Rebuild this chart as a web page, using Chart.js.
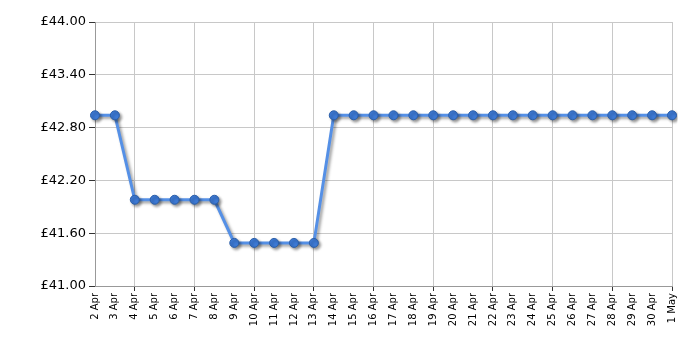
<!DOCTYPE html>
<html>
<head>
<meta charset="utf-8">
<script src="https://cdn.jsdelivr.net/npm/chart.js@4"></script>
<style>
  body { margin: 0; background: #fff; }
  #wrap { width: 700px; height: 350px; }
</style>
</head>
<body>
<div id="wrap"><canvas id="myChart"></canvas></div>
<script>
var days = ["2 Apr", "3 Apr", "4 Apr", "5 Apr", "6 Apr", "7 Apr", "8 Apr", "9 Apr", "10 Apr", "11 Apr",
    "12 Apr", "13 Apr", "14 Apr", "15 Apr", "16 Apr", "17 Apr", "18 Apr", "19 Apr", "20 Apr", "21 Apr",
    "22 Apr", "23 Apr", "24 Apr", "25 Apr", "26 Apr", "27 Apr", "28 Apr", "29 Apr", "30 Apr", "1 May"];
var prices = [42.94, 42.94, 41.98, 41.98, 41.98, 41.98, 41.98, 41.49, 41.49, 41.49,
    41.49, 41.49, 42.94, 42.94, 42.94, 42.94, 42.94, 42.94, 42.94, 42.94,
    42.94, 42.94, 42.94, 42.94, 42.94, 42.94, 42.94, 42.94, 42.94, 42.94];
var yTicks = [41.00, 41.60, 42.20, 42.80, 43.40, 44.00];

// drop shadow under the line
const shadow = {
    id: "shadow",
    beforeDatasetDraw(chart) {
        const ctx = chart.ctx
        ctx.save()
        ctx.shadowColor = "rgba(0,0,0,0.4)"
        ctx.shadowBlur = 3
        ctx.shadowOffsetX = 2
        ctx.shadowOffsetY = 2
    },
    afterDatasetDraw(chart) {
        chart.ctx.restore()
    }
}

new Chart("myChart", {
    type: "line",
    data: {
        labels: days,
        datasets: [{
            data: prices,
            borderColor: "#5590e6",
            borderWidth: 3,
            backgroundColor: "#3d7ad6",
            pointBackgroundColor: "#3d7ad6",
            pointBorderColor: "#2c5fa8",
            pointBorderWidth: 1,
            pointRadius: 4.5,
            tension: 0
        }]
    },
    plugins: [shadow],
    options: {
        responsive: true,
        maintainAspectRatio: false,
        animation: false,
        layout: { padding: { top: 22, right: 28, left: 0, bottom: 0 } },
        plugins: { legend: { display: false }, tooltip: { enabled: false } },
        scales: {
            x: {
                offset: false,
                afterFit: (s) => { s.height = 64 },
                grid: {
                    color: (c) => (c.index % 3 === 2 ? "#c8c8c8" : "transparent"),
                    tickColor: (c) => (c.index % 3 === 2 ? "#333" : "transparent"),
                    tickLength: 5
                },
                border: { color: "#999", width: 1 },
                ticks: {
                    autoSkip: false,
                    maxRotation: 90,
                    minRotation: 90,
                    padding: 2,
                    color: "#000",
                    font: { family: "DejaVu Sans", size: 10 }
                }
            },
            y: {
                min: 41,
                max: 44,
                afterFit: (s) => { s.width = 95 },
                afterBuildTicks: (s) => { s.ticks = yTicks.map(v => ({ value: v })) },
                grid: { color: "#c8c8c8", tickColor: "#333", tickLength: 6 },
                border: { color: "#999", width: 1 },
                ticks: {
                    padding: 3,
                    color: "#000",
                    font: { family: "DejaVu Sans", size: 13 },
                    callback: (v) => "£" + Number(v).toFixed(2)
                }
            }
        }
    }
});
</script>
</body>
</html>
